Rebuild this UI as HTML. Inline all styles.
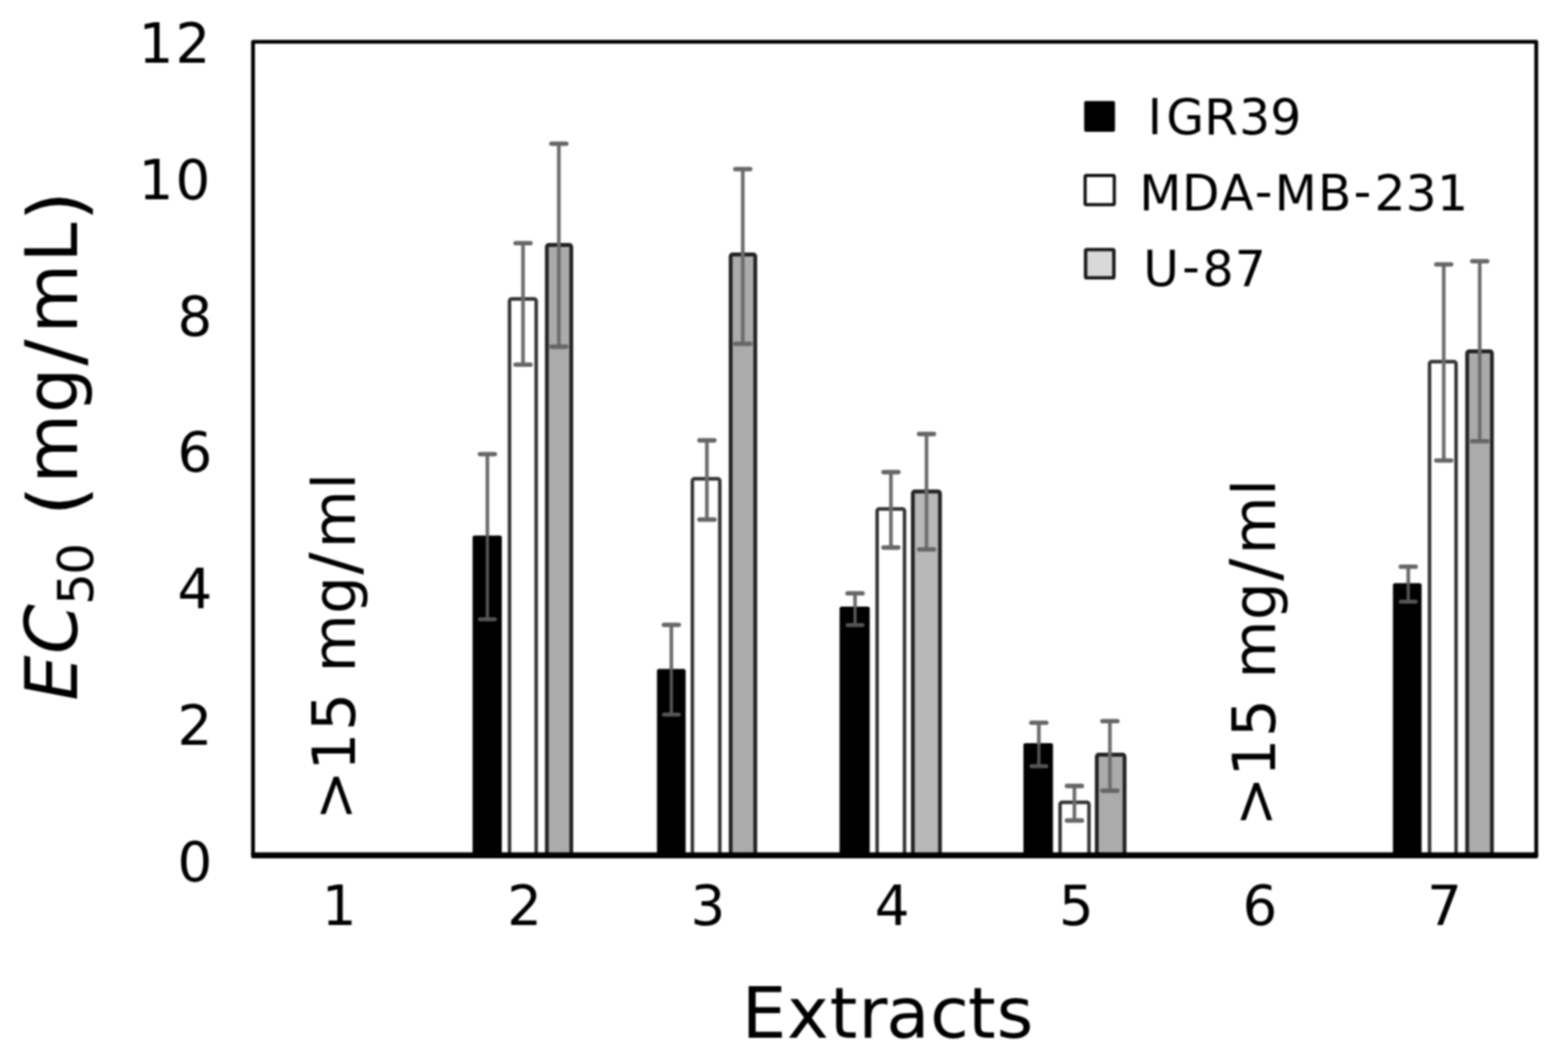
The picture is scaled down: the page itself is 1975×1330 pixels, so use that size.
<!DOCTYPE html>
<html lang="en"><head><meta charset="utf-8"><title>EC50 of extracts</title>
<style>
html,body{margin:0;padding:0;background:#fff;}
body{width:1975px;height:1330px;overflow:hidden;}
svg{display:block;}
text{font-family:"DejaVu Sans","Liberation Sans",sans-serif;fill:#000;}
</style></head><body>
<svg width="1975" height="1330" viewBox="0 0 1975 1330">
<defs><clipPath id="plot"><rect x="0" y="0" width="1975" height="1077"/></clipPath>
<filter id="soft" color-interpolation-filters="sRGB" x="0" y="0" width="1975" height="1330" filterUnits="userSpaceOnUse"><feGaussianBlur stdDeviation="0.8"/></filter>
</defs>
<rect x="0" y="0" width="1975" height="1330" fill="#fff"/>
<g filter="url(#soft)">
<rect x="-10" y="-10" width="1995" height="1350" fill="#fff"/>
<g clip-path="url(#plot)">
<rect x="595.25" y="674.5" width="36.85" height="412.5" rx="2.5" fill="#000"/>
<rect x="641.76" y="376.5" width="33.60" height="710.5" rx="2.5" fill="#fff" stroke="#333" stroke-width="4.4"/>
<rect x="688.80" y="308.5" width="30.75" height="778.5" rx="2.5" fill="#ababab" stroke="#222" stroke-width="4.8"/>
<path d="M613.9 572V675.5" stroke="#6c6c6c" stroke-width="4.6" fill="none"/>
<path d="M613.9 675.5V780" stroke="#565656" stroke-width="4.0" fill="none"/>
<path d="M604.5 572H623.3" stroke="#666" stroke-width="5.6" stroke-linecap="round" fill="none"/>
<path d="M604.5 780H623.3" stroke="#565656" stroke-width="5.0" stroke-linecap="round" fill="none"/>
<path d="M658.8 306.3V459.2" stroke="#6c6c6c" stroke-width="4.6" fill="none"/>
<path d="M649.4 306.3H668.1999999999999M649.4 459.2H668.1999999999999" stroke="#666" stroke-width="5.6" stroke-linecap="round" fill="none"/>
<path d="M703.9 181V436.6" stroke="#6c6c6c" stroke-width="4.6" fill="none"/>
<path d="M694.5 181H713.3M694.5 436.6H713.3" stroke="#666" stroke-width="5.6" stroke-linecap="round" fill="none"/>
<rect x="827.50" y="842.5" width="36.10" height="244.5" rx="2.5" fill="#000"/>
<rect x="872.10" y="603.0" width="34.55" height="484.0" rx="2.5" fill="#fff" stroke="#333" stroke-width="4.4"/>
<rect x="920.30" y="320.5" width="31.00" height="766.5" rx="2.5" fill="#ababab" stroke="#222" stroke-width="4.8"/>
<path d="M845.6 787V843.5" stroke="#6c6c6c" stroke-width="4.6" fill="none"/>
<path d="M845.6 843.5V900" stroke="#565656" stroke-width="4.0" fill="none"/>
<path d="M836.2 787H855.0" stroke="#666" stroke-width="5.6" stroke-linecap="round" fill="none"/>
<path d="M836.2 900H855.0" stroke="#565656" stroke-width="5.0" stroke-linecap="round" fill="none"/>
<path d="M890.4 554.6V654.4" stroke="#6c6c6c" stroke-width="4.6" fill="none"/>
<path d="M881.0 554.6H899.8M881.0 654.4H899.8" stroke="#666" stroke-width="5.6" stroke-linecap="round" fill="none"/>
<path d="M935.6 213V433" stroke="#6c6c6c" stroke-width="4.6" fill="none"/>
<path d="M926.2 213H945.0M926.2 433H945.0" stroke="#666" stroke-width="5.6" stroke-linecap="round" fill="none"/>
<rect x="1057.50" y="764.0" width="38.00" height="323.0" rx="2.5" fill="#000"/>
<rect x="1104.80" y="641.0" width="34.50" height="446.0" rx="2.5" fill="#fff" stroke="#333" stroke-width="4.4"/>
<rect x="1149.80" y="619.0" width="34.15" height="468.0" rx="2.5" fill="#b8b8b8" stroke="#222" stroke-width="4.8"/>
<path d="M1077 747.2V765" stroke="#6c6c6c" stroke-width="4.6" fill="none"/>
<path d="M1077 765V787.2" stroke="#565656" stroke-width="4.0" fill="none"/>
<path d="M1067.6 747.2H1086.4" stroke="#666" stroke-width="5.6" stroke-linecap="round" fill="none"/>
<path d="M1067.6 787.2H1086.4" stroke="#565656" stroke-width="5.0" stroke-linecap="round" fill="none"/>
<path d="M1122.2 594.6V689.6" stroke="#6c6c6c" stroke-width="4.6" fill="none"/>
<path d="M1112.8 594.6H1131.6000000000001M1112.8 689.6H1131.6000000000001" stroke="#666" stroke-width="5.6" stroke-linecap="round" fill="none"/>
<path d="M1167 546.6V692" stroke="#6c6c6c" stroke-width="4.6" fill="none"/>
<path d="M1157.6 546.6H1176.4M1157.6 692H1176.4" stroke="#666" stroke-width="5.6" stroke-linecap="round" fill="none"/>
<rect x="1289.10" y="936.0" width="37.20" height="151.0" rx="2.5" fill="#000"/>
<rect x="1335.20" y="1010.5" width="36.45" height="76.5" rx="2.5" fill="#fff" stroke="#333" stroke-width="4.4"/>
<rect x="1381.50" y="950.5" width="34.95" height="136.5" rx="2.5" fill="#ababab" stroke="#222" stroke-width="4.8"/>
<path d="M1308.5 910.2V937" stroke="#6c6c6c" stroke-width="4.6" fill="none"/>
<path d="M1308.5 937V965" stroke="#565656" stroke-width="4.0" fill="none"/>
<path d="M1299.1 910.2H1317.9" stroke="#666" stroke-width="5.6" stroke-linecap="round" fill="none"/>
<path d="M1299.1 965H1317.9" stroke="#565656" stroke-width="5.0" stroke-linecap="round" fill="none"/>
<path d="M1353.3 989.9V1033.4" stroke="#6c6c6c" stroke-width="4.6" fill="none"/>
<path d="M1343.8999999999999 989.9H1362.7M1343.8999999999999 1033.4H1362.7" stroke="#666" stroke-width="5.6" stroke-linecap="round" fill="none"/>
<path d="M1398 908.2V995.9" stroke="#6c6c6c" stroke-width="4.6" fill="none"/>
<path d="M1388.6 908.2H1407.4M1388.6 995.9H1407.4" stroke="#666" stroke-width="5.6" stroke-linecap="round" fill="none"/>
<rect x="1754.50" y="734.5" width="36.10" height="352.5" rx="2.5" fill="#000"/>
<rect x="1800.60" y="455.5" width="33.40" height="631.5" rx="2.5" fill="#fff" stroke="#333" stroke-width="4.4"/>
<rect x="1848.00" y="442.5" width="31.20" height="644.5" rx="2.5" fill="#ababab" stroke="#222" stroke-width="4.8"/>
<path d="M1773.8 713.7V735.5" stroke="#6c6c6c" stroke-width="4.6" fill="none"/>
<path d="M1773.8 735.5V757.7" stroke="#565656" stroke-width="4.0" fill="none"/>
<path d="M1764.3999999999999 713.7H1783.2" stroke="#666" stroke-width="5.6" stroke-linecap="round" fill="none"/>
<path d="M1764.3999999999999 757.7H1783.2" stroke="#565656" stroke-width="5.0" stroke-linecap="round" fill="none"/>
<path d="M1818.5 333V580" stroke="#6c6c6c" stroke-width="4.6" fill="none"/>
<path d="M1809.1 333H1827.9M1809.1 580H1827.9" stroke="#666" stroke-width="5.6" stroke-linecap="round" fill="none"/>
<path d="M1863.8 329V555.8" stroke="#6c6c6c" stroke-width="4.6" fill="none"/>
<path d="M1854.3999999999999 329H1873.2M1854.3999999999999 555.8H1873.2" stroke="#666" stroke-width="5.6" stroke-linecap="round" fill="none"/>
</g>
<path d="M318.7 1077V52.7H1935V1077" fill="none" stroke="#000" stroke-width="4.8" stroke-linejoin="round"/>
<rect x="316.30" y="1073.50" width="1621.10" height="7.4" rx="2" fill="#000"/>
<text x="174.6 221.1" y="78.8" font-size="69">12</text>
<text x="174.6 221.1" y="250.6" font-size="69">10</text>
<text x="223.5" y="422.5" font-size="69">8</text>
<text x="223.5" y="594.3" font-size="69">6</text>
<text x="223.5" y="766.2" font-size="69">4</text>
<text x="223.5" y="938.0" font-size="69">2</text>
<text x="223.5" y="1109.9" font-size="69">0</text>
<text x="405.2" y="1165.3" font-size="69">1</text>
<text x="638.7" y="1165.3" font-size="69">2</text>
<text x="869.8" y="1165.3" font-size="69">3</text>
<text x="1101.8" y="1165.3" font-size="69">4</text>
<text x="1333.8" y="1165.3" font-size="69">5</text>
<text x="1565.1" y="1165.3" font-size="69">6</text>
<text x="1797.4" y="1165.3" font-size="69">7</text>
<text x="934.3 991.2 1044.9 1081.2 1116.3 1171.4 1219.3 1255.2" y="1306.6" font-size="89">Extracts</text>
<text transform="translate(96.7 884) rotate(-90)" x="1.4 60.3 122.3 160.0 160.0 234.2 275.0 363.8 423.5 463.9 553.6 605.6" y="0.0 0.0 20.2 20.2 0.0 7.1 0.0 0.0 5.4 0.0 0.0 7.1" font-size="90"><tspan font-style="italic">EC</tspan><tspan font-size="63">50</tspan> <tspan font-size="97">(</tspan>mg<tspan font-size="98">/</tspan>mL<tspan font-size="97">)</tspan></text>
<text transform="translate(446.5 1030) rotate(-90)" x="-3.2 59.6 109.5 109.5 183.3 256.8 306.3 339.5 413.4" y="0.0 0.0 0.0 0.0 0.0 0.0 3.0 0.0 0.0" font-size="75">&gt;15 mg<tspan font-size="83">/</tspan>ml</text>
<text transform="translate(1605.8 1037.7) rotate(-90)" x="-3.2 59.6 109.5 109.5 183.3 256.8 306.3 339.5 413.4" y="0.0 0.0 0.0 0.0 0.0 0.0 3.0 0.0 0.0" font-size="75">&gt;15 mg<tspan font-size="83">/</tspan>ml</text>
<rect x="1365.6" y="127.3" width="38.8" height="38.8" rx="2" fill="#000"/>
<rect x="1366.8" y="220.9" width="36.7" height="36.8" rx="1.5" fill="#fff" stroke="#111" stroke-width="4.0"/>
<rect x="1367.4" y="314.4" width="35.6" height="35.5" rx="1.5" fill="#d9d9d9" stroke="#1a1a1a" stroke-width="4.4"/>
<text x="1445.6 1469.0 1516.8 1560.7 1600.0" y="168.8" font-size="61.5">IGR39</text>
<text x="1435.0 1488.8 1537.1 1580.4 1605.6 1660.1 1705.1 1731.3 1770.5 1810.0" y="265.2 265.2 265.2 262.7 265.2 265.2 262.7 265.2 265.2 265.2" font-size="61.5">MDA-MB-231</text>
<text x="1439.9 1488.9 1514.7 1555.3" y="360.2 357.7 360.2 360.2" font-size="61.5">U-87</text>
</g>
</svg>
</body></html>
